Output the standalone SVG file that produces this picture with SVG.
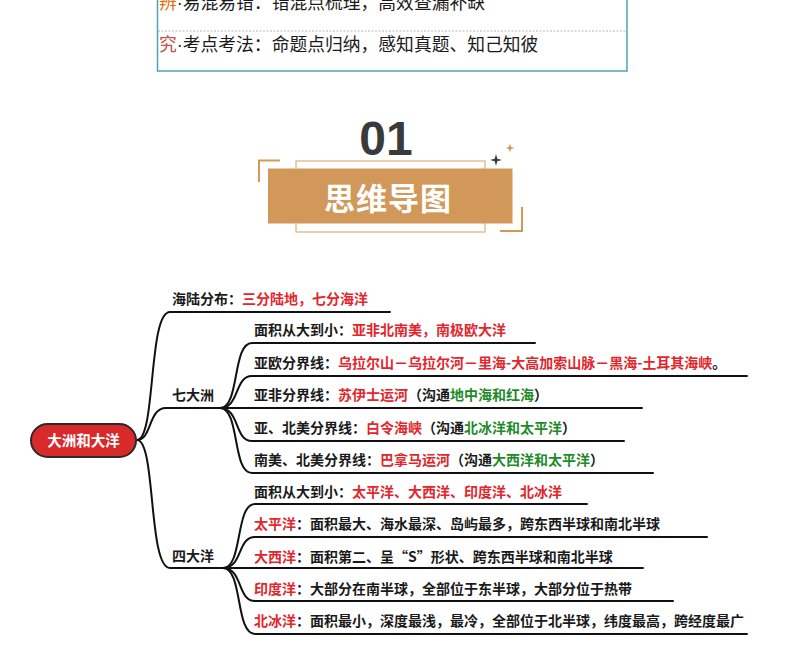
<svg xmlns="http://www.w3.org/2000/svg" width="790" height="661" viewBox="0 0 790 661">
<style>
.hdr{font-family:"Noto Sans CJK SC","Noto Sans",sans-serif;font-size:17.8px;fill:#1a1a1a}
.dot{font-family:"Liberation Sans",Arial,sans-serif}
.t{font-family:"Noto Sans CJK SC","Noto Sans",sans-serif;font-size:14px;font-weight:bold;fill:#1a1a1a}
.r{fill:#e2262c}
.g{fill:#1f8a2a}
.ln{fill:none;stroke:#111;stroke-width:2;stroke-linecap:round}
.deco{fill:none;stroke:#d39a55;stroke-width:2}
</style>
<rect width="790" height="661" fill="#ffffff"/>

<g id="header-box">
<rect x="157.5" y="-2" width="469.5" height="73" fill="#ffffff" stroke="#4fa3b4" stroke-width="1.5"/>
<line x1="158" y1="31" x2="626" y2="31" stroke="#b8b8b8" stroke-width="1" stroke-dasharray="2,1.5"/>
<text class="hdr" x="159" y="9"><tspan fill="#e46c0a">辨</tspan><tspan class="dot">·</tspan>易混易错：错混点梳理，高效查漏补缺</text>
<text class="hdr" x="159" y="51"><tspan fill="#c0504d">究</tspan><tspan class="dot">·</tspan>考点考法：命题点归纳，感知真题、知己知彼</text>
</g>

<g id="title">
<text x="386" y="155" text-anchor="middle" font-family="Liberation Sans, Arial, sans-serif" font-size="48" font-weight="bold" fill="#3a3a3a">01</text>
<rect x="296" y="161" width="189" height="71" fill="#ffffff" stroke="#dbb07a" stroke-width="1.2"/>
<rect x="268" y="168.5" width="244.5" height="55" fill="#d1985a"/>
<path class="deco" d="M259,182 V160.5 H280"/>
<path class="deco" d="M522,207 V231 H500"/>
<path d="M496,154 L497.3,158.7 L502,160 L497.3,161.3 L496,166 L494.7,161.3 L490,160 L494.7,158.7 Z" fill="#3a3a3a"/>
<path d="M510,143.5 L511.1,146.9 L514.5,148 L511.1,149.1 L510,152.5 L508.9,149.1 L505.5,148 L508.9,146.9 Z" fill="#d1985a"/>
<text x="388" y="209.5" text-anchor="middle" font-family="'Noto Sans CJK SC',sans-serif" font-size="31" font-weight="bold" letter-spacing="1" fill="#ffffff">思维导图</text>
</g>

<g id="connectors">
<path class="ln" d="M137,440 C156,440 148,312 170,312 H390"/>
<path class="ln" d="M137,440 C152,440 148,408 166,408 H220"/>
<path class="ln" d="M137,440 C156,440 148,568 170,568 H223"/>
<path class="ln" d="M220,408 C240,408 232,343 252,343 H535"/>
<path class="ln" d="M220,408 C240,408 234,376 252,376 H747"/>
<path class="ln" d="M220,408 H642"/>
<path class="ln" d="M220,408 C240,408 234,441 252,441 H624"/>
<path class="ln" d="M220,408 C240,408 232,473 252,473 H653"/>
<path class="ln" d="M223,568 C243,568 235,504 255,504 H587"/>
<path class="ln" d="M223,568 C243,568 237,537 255,537 H707"/>
<path class="ln" d="M223,568 H643"/>
<path class="ln" d="M223,568 C243,568 237,601 255,601 H673"/>
<path class="ln" d="M223,568 C243,568 235,634 255,634 H747"/>
</g>

<g id="root">
<rect x="31" y="424" width="105" height="33" rx="16.5" fill="#d92a2b" stroke="#2a2a2a" stroke-width="2"/>
<text x="83.5" y="446" text-anchor="middle" font-family="'Noto Sans CJK SC',sans-serif" font-size="14.5" font-weight="bold" fill="#ffffff">大洲和大洋</text>
</g>

<g id="node-land-sea">
<text class="t" x="172" y="304">海陆分布：<tspan class="r">三分陆地，七分海洋</tspan></text>
</g>

<g id="node-continents">
<text class="t" x="172" y="400">七大洲</text>
</g>
<g id="c1"><text class="t" x="254" y="335">面积从大到小：<tspan class="r">亚非北南美，南极欧大洋</tspan></text></g>
<g id="c2"><text class="t" x="254" y="368">亚欧分界线：<tspan class="r">乌拉尔山－乌拉尔河－里海-大高加索山脉－黑海-土耳其海峡</tspan>。</text></g>
<g id="c3"><text class="t" x="254" y="400">亚非分界线：<tspan class="r">苏伊士运河</tspan>（沟通<tspan class="g">地中海和红海</tspan>）</text></g>
<g id="c4"><text class="t" x="254" y="433">亚、北美分界线：<tspan class="r">白令海峡</tspan>（沟通<tspan class="g">北冰洋和太平洋</tspan>）</text></g>
<g id="c5"><text class="t" x="254" y="465">南美、北美分界线：<tspan class="r">巴拿马运河</tspan>（沟通<tspan class="g">大西洋和太平洋</tspan>）</text></g>

<g id="node-oceans">
<text class="t" x="172" y="561">四大洋</text>
</g>
<g id="o1"><text class="t" x="254" y="497">面积从大到小：<tspan class="r">太平洋、大西洋、印度洋、北冰洋</tspan></text></g>
<g id="o2"><text class="t" x="254" y="529"><tspan class="r">太平洋</tspan>：面积最大、海水最深、岛屿最多，跨东西半球和南北半球</text></g>
<g id="o3"><text class="t" x="254" y="562"><tspan class="r">大西洋</tspan>：面积第二、呈“S”形状、跨东西半球和南北半球</text></g>
<g id="o4"><text class="t" x="254" y="594"><tspan class="r">印度洋</tspan>：大部分在南半球，全部位于东半球，大部分位于热带</text></g>
<g id="o5"><text class="t" x="254" y="626"><tspan class="r">北冰洋</tspan>：面积最小，深度最浅，最冷，全部位于北半球，纬度最高，跨经度最广</text></g>
</svg>
